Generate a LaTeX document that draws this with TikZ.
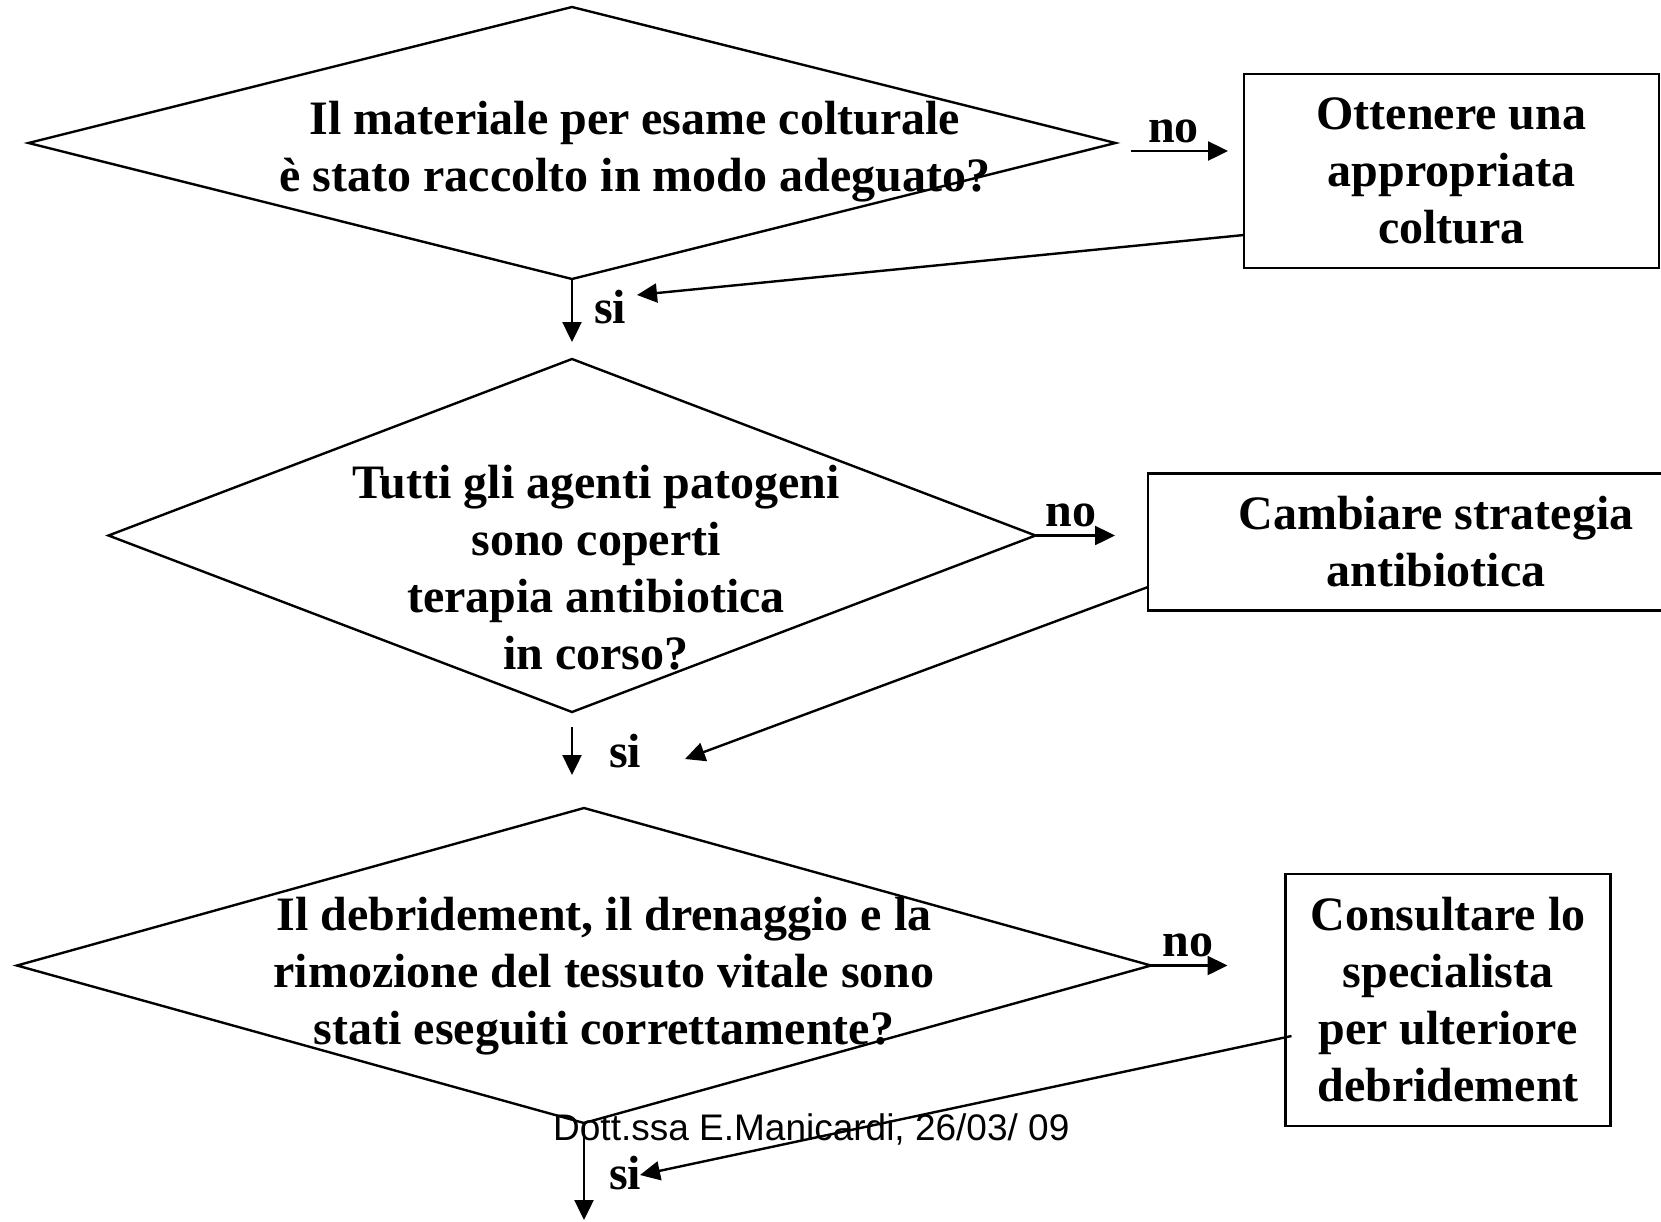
\documentclass[tikz,border=0pt]{standalone}
\usepackage{fontspec}
\setmainfont{Liberation Serif}
\newfontfamily\footfont{Liberation Sans}
\usetikzlibrary{shapes.geometric, arrows.meta}
\tikzset{
    x=1pt, y=-1pt, % one unit is one pixel of the page, y grows downwards
    >={Triangle[length=20pt, width=19pt]}, % filled arrow heads
    question/.style={diamond, draw, line width=2.4pt, inner sep=0pt, outer sep=0pt}, % the yes/no questions
    action/.style={rectangle, draw, line width=2.4pt, inner sep=0pt, outer sep=0pt, % what to do on 'no'
        font=\fontsize{48}{57}\selectfont\bfseries, align=center},
    qtext/.style={font=\fontsize{48}{57}\selectfont\bfseries, align=center, inner sep=0pt},
    answer/.style={font=\fontsize{48}{57}\selectfont\bfseries, inner sep=0pt},
    link/.style={->, line width=2.4pt},
}

\begin{document}
\begin{tikzpicture}
    \useasboundingbox (0,0) rectangle (1661,1221);

    % questions
    \node[question, minimum width=1087pt, minimum height=272pt] (d1) at (572,143) {};
    \node[qtext] (t1) at (635,152) {Il materiale per esame colturale\\è stato raccolto in modo adeguato?};
    \node[question, minimum width=927pt, minimum height=353pt] (d2) at (572,535.5) {};
    \node[qtext] (t2) at (596,568) {Tutti gli agenti patogeni\\sono coperti\\terapia antibiotica\\in corso?};
    \node[question, minimum width=1134pt, minimum height=315pt] (d3) at (584,965.5) {};
    \node[qtext] (t3) at (604,976) {Il debridement, il drenaggio e la\\rimozione del tessuto vitale sono\\stati eseguiti correttamente?};

    % actions
    \node[action, minimum width=415pt, minimum height=194pt] (b1) at (1451.5,171) {Ottenere una\\appropriata\\coltura};
    \node[action, minimum width=576pt, minimum height=137pt] (b2) at (1436,542) {Cambiare strategia\\antibiotica};
    \node[action, minimum width=325pt, minimum height=252pt] (b3) at (1448,1000) {Consultare lo\\specialista\\per ulteriore\\debridement};

    % free ends
    \coordinate (no1) at (1131,151);
    \coordinate (r1) at (637,295);
    \coordinate (r2) at (685,759);
    \coordinate (r3) at (640,1175);

    % no
    \draw[link] (no1) -- ([xshift=-16pt]b1.west |- no1) node[answer, midway, above=7pt, xshift=-6pt] (n1) {no};
    \draw[link] (d2.east) -- ([xshift=-33pt]b2.west |- d2.east) node[answer, midway, above=7pt, xshift=-4pt] (n2) {no};
    \draw[link] (d3.east) -- ([xshift=-58pt]b3.west |- d3.east) node[answer, midway, above=7pt, xshift=-1pt] (n3) {no};

    % si
    \draw[link] (d1.south) -- ([yshift=-63pt]d1.south) node[answer, pos=0.45, right=21pt] (s1) {si};
    \draw[link] ([yshift=-15pt]d2.south) -- ([yshift=-63pt]d2.south) node[answer, midway, right=36pt] (s2) {si};
    \draw[link] (d3.south) -- ([yshift=-97pt]d3.south) node[answer, pos=0.52, right=24pt] (s3) {si};

    % back from the actions
    \draw[link] ([yshift=-64pt]b1.west) -- (r1);
    \draw[link] ([yshift=-45pt]b2.west) -- (r2);
    \draw[link] ([shift={(6pt,-36pt)}]b3.west) -- (r3);

    \node[anchor=base west, inner sep=0pt, font=\footfont\fontsize{37}{44}\selectfont] (foot) at (553,1140) {Dott.ssa E.Manicardi, 26/03/ 09};
\end{tikzpicture}
\end{document}
